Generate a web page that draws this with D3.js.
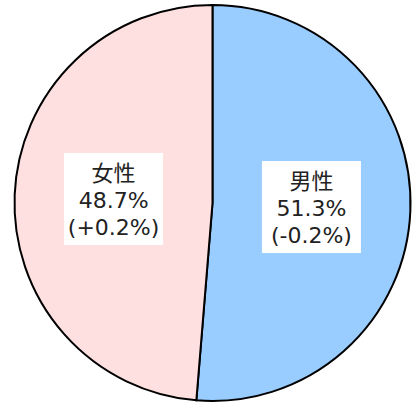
<!DOCTYPE html>
<html>
<head>
  <meta charset="utf-8">
  <title>男女比</title>
  <style>
  body { margin: 0; background: #fff; }
  .slice { stroke: #000; stroke-width: 2px; }
  .label text { font-family: "DejaVu Sans", "Noto Sans CJK JP", sans-serif; font-size: 22px; fill: #222; }
  </style>
</head>
<body>
  <svg width="414" height="405"></svg>
  <script src="https://d3js.org/d3.v7.min.js"></script>
  <script>
  // データ
  var categories = ["男性", "女性"];
  var shares = [51.3, 48.7];
  var changes = ["(-0.2%)", "(+0.2%)"];
  var colors = ["#99ccff", "#ffe0e0"];

  var svg = d3.select("svg");
  var cx = 212.5, cy = 203, radius = 198;

  var pie = d3.pie().sort(null).value(function(d) { return d; });
  var arcs = pie(shares);
  var arc = d3.arc().innerRadius(0).outerRadius(radius);

  var g = svg.append("g").attr("transform", "translate(" + cx + "," + cy + ")");

  g.selectAll(".slice")
    .data(arcs)
    .enter()
    .append("path")
    .attr("class", "slice")
    .attr("fill", function(d, i) { return colors[i]; })
    .attr("d", arc);

  var label = g.selectAll(".label")
    .data(arcs)
    .enter()
    .append("g")
    .attr("class", "label")
    .attr("transform", function(d) {
      var c = arc.centroid(d);
      return "translate(" + c[0] + "," + c[1] + ")";
    });

  label.append("rect")
    .attr("x", -49.5)
    .attr("y", -46)
    .attr("width", 99)
    .attr("height", 92)
    .attr("fill", "#fff");

  label.each(function(d, i) {
    var lines = [categories[i], shares[i].toFixed(1) + "%", changes[i]];
    d3.select(this).selectAll("text")
      .data(lines)
      .enter()
      .append("text")
      .attr("text-anchor", "middle")
      .attr("y", function(t, k) { return -26 + k * 27; })
      .attr("dy", "0.35em")
      .text(function(t) { return t; });
  });
  </script>
</body>
</html>
